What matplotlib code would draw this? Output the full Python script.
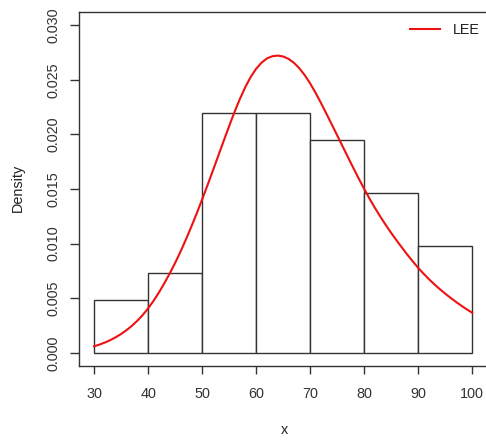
import matplotlib
matplotlib.use("Agg")
import matplotlib.pyplot as plt
from matplotlib.lines import Line2D

# Histogram (bin edges and density heights)
bin_edges = [30, 40, 50, 60, 70, 80, 90, 100]
densities = [0.00488, 0.00732, 0.02195, 0.02195, 0.01951, 0.01463, 0.00976]

# Fitted "LEE" density curve (x = 30, 31, ..., 100)
curve_x = list(range(30, 101))
curve_y = [0.00060, 0.00076, 0.00095, 0.00117, 0.00143, 0.00173, 0.00208, 0.00248,
           0.00294, 0.00347, 0.00407, 0.00476, 0.00553, 0.00637, 0.00727, 0.00823,
           0.00927, 0.01038, 0.01155, 0.01277, 0.01404, 0.01535, 0.01669, 0.01805,
           0.01941, 0.02075, 0.02205, 0.02325, 0.02433, 0.02526, 0.02600, 0.02656,
           0.02695, 0.02715, 0.02721, 0.02713, 0.02691, 0.02655, 0.02605, 0.02542,
           0.02467, 0.02381, 0.02288, 0.02191, 0.02092, 0.01992, 0.01892, 0.01792,
           0.01693, 0.01596, 0.01502, 0.01412, 0.01327, 0.01247, 0.01171, 0.01099,
           0.01030, 0.00964, 0.00899, 0.00838, 0.00779, 0.00725, 0.00675, 0.00628,
           0.00584, 0.00543, 0.00504, 0.00467, 0.00432, 0.00399, 0.00368]

xticks = [30, 40, 50, 60, 70, 80, 90, 100]
yticks = [0.000, 0.005, 0.010, 0.015, 0.020, 0.025, 0.030]
ytick_labels = ["0.000", "0.005", "0.010", "0.015", "0.020", "0.025", "0.030"]

plt.rcParams['font.family'] = ['Liberation Sans', 'DejaVu Sans']
fs = 10.4
fg = '#333333'

fig = plt.figure(figsize=(4.86, 4.40), dpi=100)
W, H = 486, 440
ax = fig.add_axes([79 / W, (H - 366) / H, (492 - 79) / W, (366 - 12) / H])

widths = [bin_edges[i + 1] - bin_edges[i] for i in range(len(densities))]
ax.bar(bin_edges[:-1], densities, width=widths, align='edge',
       facecolor='white', edgecolor=fg, linewidth=1.0)
ax.plot(curve_x, curve_y, color='#ee1111', linewidth=1.5,
        solid_joinstyle='round', antialiased=True)

ax.set_xlim(27.2, 27.2 + (492 - 79) / 5.4)
ax.set_ylim(-0.0012, 0.0312)
ax.set_xticks(xticks)
ax.set_xticklabels([str(v) for v in xticks])
ax.set_yticks(yticks)
ax.set_yticklabels(ytick_labels, rotation=90, va='center')

for s in ax.spines.values():
    s.set_color(fg)
    s.set_linewidth(1.0)
ax.tick_params(axis='x', length=6, width=1.0, color=fg, labelsize=fs,
               labelcolor=fg, pad=9)
ax.tick_params(axis='y', length=6.5, width=1.0, color=fg, labelsize=fs,
               labelcolor=fg, pad=7)

fig.text(18 / W, (H - 188) / H, "Density", rotation=90, ha='center',
         va='center', fontsize=fs, color='#222222')
fig.text(284 / W, (H - 430) / H, "x", ha='center', va='center',
         fontsize=fs, color='#222222')

handle = Line2D([], [], color='#ee1111', linewidth=1.5)
ax.legend([handle], ["LEE"], loc='center left', frameon=False,
          bbox_to_anchor=(410 / W, (H - 30) / H), bbox_transform=fig.transFigure,
          borderpad=0, borderaxespad=0, handlelength=2.08, handletextpad=0.88,
          fontsize=fs, labelcolor='#222222')

fig.savefig("out.png", dpi=100)
